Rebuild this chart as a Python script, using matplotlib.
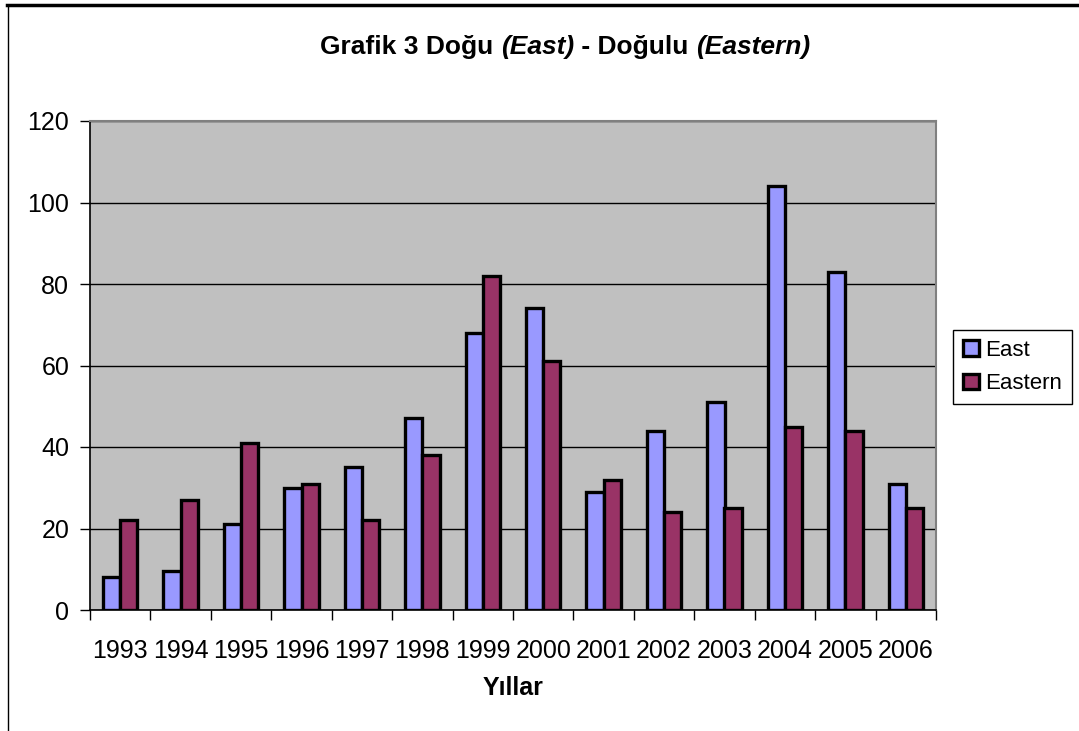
import matplotlib
matplotlib.use("Agg")
import matplotlib.pyplot as plt
from matplotlib.lines import Line2D
import numpy as np

plt.rcParams['font.family'] = ['Liberation Sans', 'DejaVu Sans']

years = ["1993", "1994", "1995", "1996", "1997", "1998", "1999",
         "2000", "2001", "2002", "2003", "2004", "2005", "2006"]
east = [8, 9.5, 21, 30, 35, 47, 68, 74, 29, 44, 51, 104, 83, 31]
eastern = [22, 27, 41, 31, 22, 38, 82, 61, 32, 24, 25, 45, 44, 25]

W, H = 1079, 731
fig = plt.figure(figsize=(W / 100, H / 100), dpi=100)
fig.patch.set_facecolor("white")

L, R, T, B = 90, 936, 121, 610
ax = fig.add_axes([L / W, 1 - B / H, (R - L) / W, (B - T) / H])
ax.set_facecolor("#C0C0C0")

x = np.arange(len(years))
bw = 1 / 3.5
ax.bar(x - bw / 2, east, bw, color="#9999FF", edgecolor="black", linewidth=2.4, label="East", zorder=3)
ax.bar(x + bw / 2, eastern, bw, color="#993366", edgecolor="black", linewidth=2.4, label="Eastern", zorder=3)

ax.set_xlim(-0.5, len(years) - 0.5)
ax.set_ylim(0, 120)
ax.set_yticks(np.arange(0, 121, 20))
ax.yaxis.grid(True, color="black", linewidth=1)
ax.set_axisbelow(True)

ax.set_xticks(x)
ax.set_xticklabels(years, fontsize=18)
ax.set_xticks(np.arange(-0.5, len(years), 1), minor=True)
ax.tick_params(axis="x", which="major", length=0, pad=21)
ax.tick_params(axis="x", which="minor", length=7, width=1, direction="out")
ax.tick_params(axis="y", length=7, width=1, direction="out", labelsize=18, pad=8)

for s in ["top", "right"]:
    ax.spines[s].set_color("#808080")
    ax.spines[s].set_linewidth(1.5)
for s in ["left", "bottom"]:
    ax.spines[s].set_color("black")
    ax.spines[s].set_linewidth(1.2)

ax.set_xlabel("Yıllar", fontsize=18, fontweight="bold", labelpad=9)

# title with mixed italics
fig.canvas.draw()
r = fig.canvas.get_renderer()
parts = [("Grafik 3 Doğu ", "normal"), ("(East)", "italic"), (" - Doğulu ", "normal"), ("(Eastern)", "italic")]
tsize = 19
widths = []
for txt, st in parts:
    t = fig.text(0, 0, txt, fontsize=tsize, fontweight="bold", style=st)
    widths.append(t.get_window_extent(renderer=r).width)
    t.remove()
xpos = 565 - sum(widths) / 2
for (txt, st), w in zip(parts, widths):
    fig.text(xpos / W, 1 - 47 / H, txt, fontsize=tsize, fontweight="bold", style=st, va="center")
    xpos += w

leg = fig.legend(loc="upper left", bbox_to_anchor=(953 / W, 1 - 330 / H), fontsize=16,
                 frameon=True, fancybox=False, edgecolor="black", framealpha=1,
                 handlelength=0.7, handleheight=0.7, handletextpad=0.3, borderpad=0.45,
                 labelspacing=0.55, borderaxespad=0)
leg.get_frame().set_linewidth(1)

fig.add_artist(Line2D([7 / W, 1], [1 - 5 / H, 1 - 5 / H], color="black", linewidth=2.5,
                      transform=fig.transFigure))
fig.add_artist(Line2D([7.5 / W, 7.5 / W], [0, 1 - 5 / H], color="black", linewidth=1,
                      transform=fig.transFigure))

fig.savefig("out.png", dpi=100)
